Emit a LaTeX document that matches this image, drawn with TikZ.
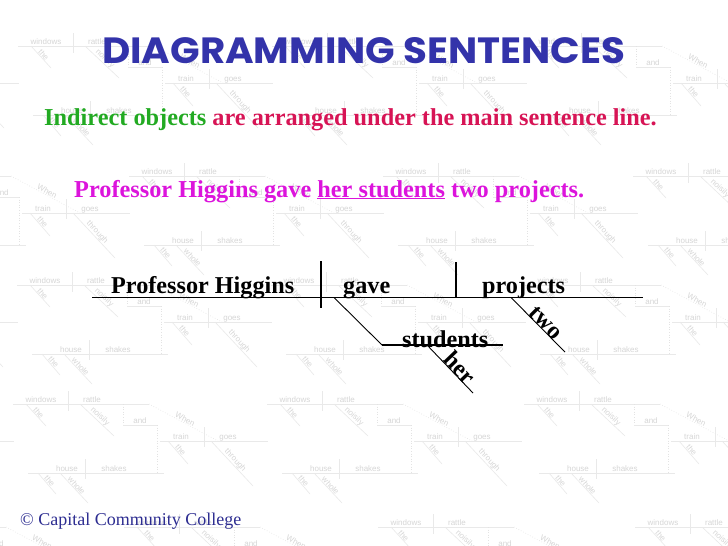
\documentclass[tikz,border=0pt]{standalone}
\usepackage{fontspec}
\setmainfont{Liberation Serif}
\newfontfamily\titlefont{Poppins}
\newfontfamily\wmfont{Liberation Sans}
\definecolor{titleblue}{RGB}{51,51,170}
\definecolor{igreen}{RGB}{34,170,34}
\definecolor{icrimson}{RGB}{215,20,85}
\definecolor{imag}{RGB}{220,20,220}
\definecolor{navyc}{RGB}{45,45,145}
\tikzset{
  wmline/.style={draw=gray!17, line width=0.6pt},
  wmdot/.style={draw=gray!22, line width=0.6pt, dotted},
  wmtext/.style={text=gray!32, font=\wmfont\fontsize{8}{9}\selectfont, inner sep=0.5pt},
  wm/.pic={
    \draw[wmline] (-55,0) -- (81,0);
    \draw[wmline] (0,-13) -- (0,7);
    \node[wmtext, anchor=base] at (-27,-2) {windows};
    \node[wmtext, anchor=base] at (24,-2) {rattle};
    \draw[wmline] (-42,0) -- (-22,22);
    \node[wmtext, rotate=-48, anchor=south] at (-32,11) {the};
    \draw[wmline] (12,0) -- (46,32);
    \node[wmtext, rotate=-43, anchor=south] at (29,16) {noisily};
    \draw[wmdot] (55,0) -- (55,21);
    \draw[wmline] (55,21) -- (89,21);
    \node[wmtext, anchor=base] at (72,19) {and};
    \draw[wmdot] (89,21) -- (89,69);
    \draw[wmline] (-40,69) -- (96,69);
    \draw[wmline] (17,55) -- (17,75);
    \node[wmtext, anchor=base] at (-1,67) {house};
    \node[wmtext, anchor=base] at (46,67) {shakes};
    \draw[wmline] (-30,69) -- (-12,90);
    \node[wmtext, rotate=-49, anchor=south] at (-21,79.5) {the};
    \draw[wmline] (-8,69) -- (20,99);
    \node[wmtext, rotate=-47, anchor=south] at (6,84) {whole};
    \draw[wmdot] (81,0) -- (150,37);
    \node[wmtext, rotate=-28, anchor=south] at (115.5,18.5) {When};
    \draw[wmline] (92,37) -- (200,37);
    \draw[wmline] (136,23) -- (136,43);
    \node[wmtext, anchor=base] at (113,35) {train};
    \node[wmtext, anchor=base] at (160,35) {goes};
    \draw[wmline] (100,37) -- (120,60);
    \node[wmtext, rotate=-49, anchor=south] at (110,48.5) {the};
    \draw[wmline] (143,37) -- (185,82);
    \node[wmtext, rotate=-47, anchor=south] at (164,59.5) {through};
  },
  big/.style={font=\fontsize{24.3}{28}\selectfont\bfseries, inner sep=0pt, anchor=base west},
  lbl/.style={font=\fontsize{24.2}{28}\selectfont\bfseries, inner sep=0pt, anchor=base west, text=black},
  slbl/.style={font=\fontsize{24.2}{28}\selectfont\bfseries, inner sep=0pt, sloped, anchor=base, text=black},
  dline/.style={draw=black, line width=1.2pt},
  thin/.style={draw=black, line width=0.9pt}
}
\begin{document}
\begin{tikzpicture}[x=1pt,y=-1pt]
\useasboundingbox (0,0) rectangle (728,546);
\fill[white] (0,0) rectangle (728,546);
% watermark background
\begin{scope}
\clip (0,0) rectangle (728,546);
\foreach \px/\py in {-181/46,73/46,327/46,581/46,
                     -70/176,184/176,438/176,688/176,
                     -182/285,72/285,326/285,580/285,
                     -186/404,68/404,322/404,579/404,
                     -75/527,179/527,433/527,690/527}
  \pic at (\px,\py) {wm};
\end{scope}
% title
\node[anchor=base west, inner sep=0pt, text=titleblue] (title) at (102,63)
  {\resizebox{523pt}{26pt}{\titlefont\bfseries DIAGRAMMING SENTENCES}};
\node[big] (rule) at (44,125)
  {\textcolor{igreen}{Indirect objects} \textcolor{icrimson}{are arranged under the main sentence line.}};
\node[big, text=imag] (sentence) at (74,197)
  {Professor Higgins gave \underline{her students} two projects.};
% diagram
\coordinate (mL) at (92,297.5);
\coordinate (mR) at (643,297.5);
\coordinate (d1t) at (321,261);
\coordinate (d1b) at (321,308);
\coordinate (d2t) at (456,262);
\coordinate (d2b) at (456,297.5);
\coordinate (ioA) at (334,297.5);
\coordinate (ioB) at (382,345);
\coordinate (ioC) at (503,345);
\coordinate (herA) at (427,345);
\coordinate (herB) at (473,393);
\coordinate (twoA) at (511,297.5);
\coordinate (twoB) at (565,352);
\draw[dline] (mL) -- (mR);
\draw[dline] (d1t) -- (d1b);
\draw[dline] (d2t) -- (d2b);
\node[lbl] (subj) at (111,293.5) {Professor Higgins};
\node[lbl] (verb) at (343,293.5) {gave};
\node[lbl] (dobj) at (482,293.5) {projects};
\draw[thin] (ioA) -- (ioB);
\draw[dline] (ioB) -- (ioC);
\node[lbl] (iobj) at (402,347) {students};
\draw[thin] (herA) -- node[slbl, pos=0.59] (her) {her} (herB);
\draw[thin] (twoA) -- node[slbl, pos=0.55] (two) {two} (twoB);
% footer
\node[anchor=base west, inner sep=0pt, text=navyc, font=\fontsize{18}{20}\selectfont] (footer) at (20,525)
  {\textcopyright{} Capital Community College};
\end{tikzpicture}
\end{document}
